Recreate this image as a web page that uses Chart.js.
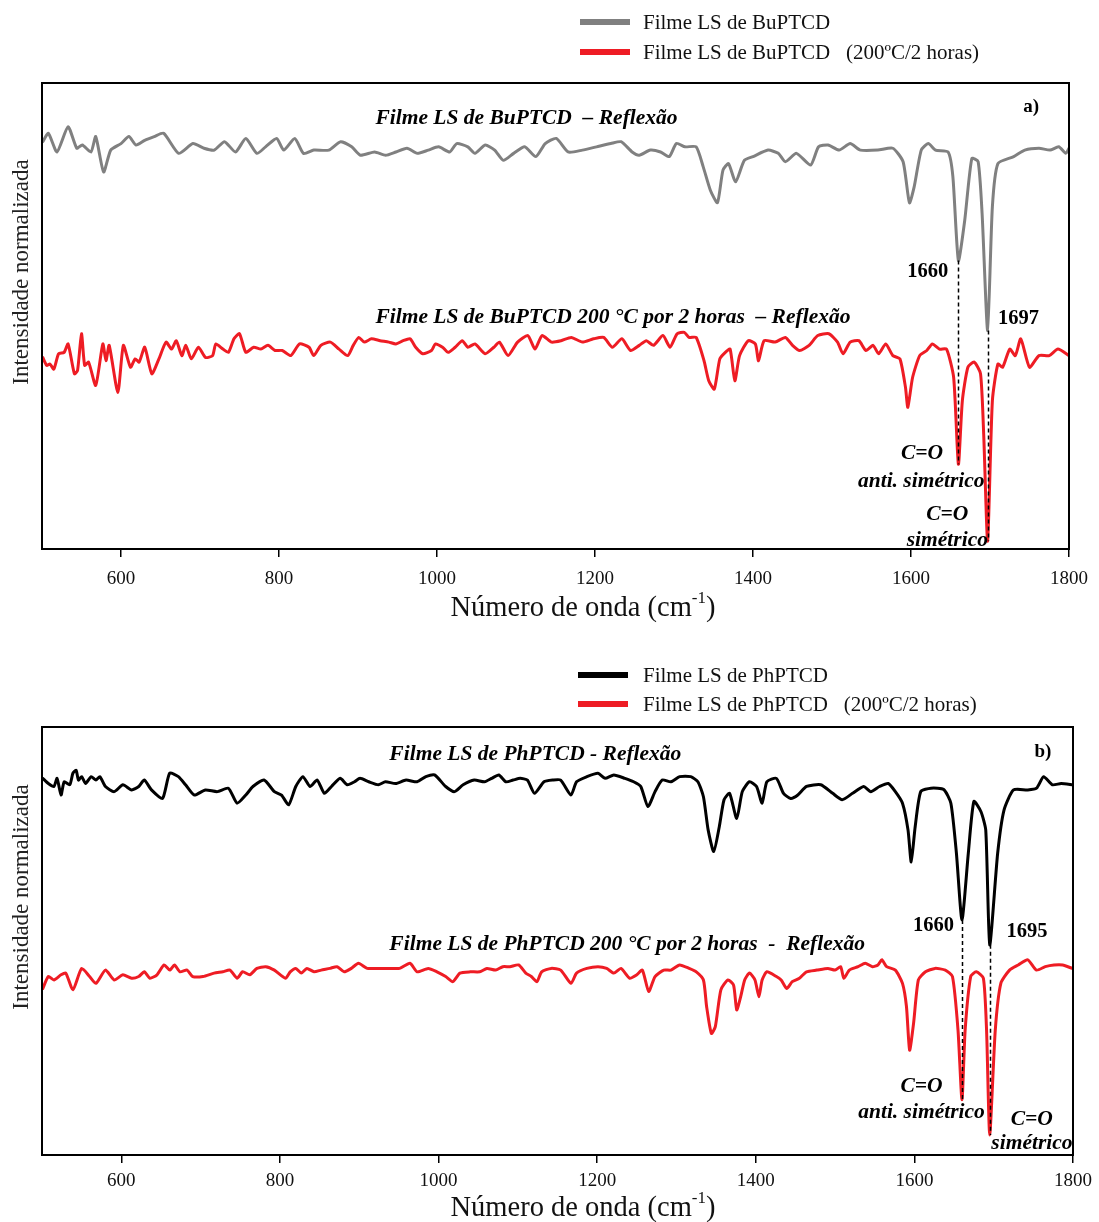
<!DOCTYPE html>
<html>
<head>
<meta charset="utf-8">
<script src="https://cdn.jsdelivr.net/npm/chart.js@4.4.0/dist/chart.umd.min.js"></script>
<style>
  html, body { margin: 0; padding: 0; background: #fff; overflow: hidden; width: 1099px; height: 1222px; }
  .panel { position: absolute; left: 0; width: 1099px; }
  #panelA { top: 0; height: 640px; }
  #panelB { top: 636px; height: 600px; }
</style>
</head>
<body>
<div class="panel" id="panelA"><canvas id="chartA" width="1099" height="640"></canvas></div>
<div class="panel" id="panelB"><canvas id="chartB" width="1099" height="600"></canvas></div>
<script>
// ---- Spectra (wavenumber in cm-1, normalized intensity with vertical offset) ----
const buWavenumber = [501,508,519,533,544,551,562,568,578,587,600,610,619,630,642,654,673,691,705,718,731,745,758,772,783,797,806,820,831,844,863,878,892,903,921,935,948,962,975,989,1002,1016,1025,1039,1048,1061,1073,1084,1097,1111,1125,1137,1151,1166,1184,1202,1220,1233,1247,1256,1270,1283,1294,1303,1314,1328,1337,1346,1355,1362,1369,1378,1389,1400,1419,1432,1441,1455,1473,1483,1495,1509,1523,1536,1558,1577,1590,1598,1604,1613,1622,1631,1647,1653,1660,1668,1677,1685,1690,1697,1703,1710,1730,1744,1762,1776,1787,1796,1800];
const buIntensity = [87.4,89.2,85.2,90.6,86.0,86.7,85.2,88.5,80.9,85.6,87.0,88.5,86.7,87.7,88.5,89.2,84.9,87.0,86.0,85.6,87.4,85.2,88.1,84.9,86.3,88.1,85.6,88.1,84.9,85.6,85.6,87.4,86.3,84.5,85.2,84.5,85.2,86.0,84.9,85.6,86.3,85.2,87.0,86.3,84.9,86.7,85.6,83.4,84.9,86.3,84.2,87.0,88.1,85.2,85.6,86.3,87.0,87.4,85.2,84.5,85.6,85.2,84.2,87.0,86.3,86.3,82.0,77.0,74.3,81.3,82.7,78.8,83.4,84.2,85.6,84.9,83.1,84.9,82.4,86.3,86.7,85.6,87.0,85.6,85.6,86.0,83.1,74.3,77.7,85.6,87.0,85.6,85.2,79.9,61.9,70.5,83.8,83.1,72.0,46.9,73.4,82.7,84.2,85.6,86.0,85.6,86.3,84.9,86.0];

const buHeatedWavenumber = [501,506,510,515,521,528,533,541,545,550,554,559,568,577,581,585,596,603,612,618,623,630,639,648,657,664,670,677,682,689,698,707,716,720,729,736,743,750,758,768,777,786,795,804,815,826,838,844,853,865,876,887,894,901,908,917,928,939,948,957,966,973,982,993,998,1007,1014,1023,1032,1039,1048,1061,1072,1079,1090,1102,1115,1124,1133,1145,1157,1170,1184,1198,1211,1222,1234,1245,1256,1265,1274,1286,1295,1304,1313,1319,1328,1338,1344,1351,1358,1365,1371,1377,1383,1394,1403,1407,1414,1428,1441,1450,1459,1471,1482,1496,1507,1514,1523,1534,1543,1552,1559,1568,1577,1586,1593,1596,1602,1611,1620,1627,1636,1645,1654,1660,1665,1672,1680,1688,1692,1697,1703,1710,1716,1725,1732,1739,1750,1762,1775,1786,1800];
const buHeatedIntensity = [41.1,39.4,39.7,38.6,41.9,42.2,44.0,37.6,38.3,46.2,39.4,40.1,35.1,44.0,40.4,43.7,33.6,43.7,39.0,40.8,40.1,43.3,37.6,40.8,44.4,42.9,44.7,41.5,43.7,40.8,43.3,41.1,41.5,44.0,42.9,42.2,45.1,46.2,42.2,43.3,42.9,43.7,42.6,42.6,41.5,44.0,43.3,41.5,43.7,44.4,42.9,41.5,43.7,45.4,44.4,45.1,44.7,44.4,44.0,44.7,45.1,43.3,41.9,42.6,44.0,43.3,42.2,43.3,44.7,43.3,44.0,41.9,43.3,44.4,41.5,44.4,45.8,42.9,45.8,44.4,44.7,45.4,44.4,45.1,45.4,43.3,45.1,42.6,43.7,44.7,43.7,45.8,43.3,46.2,46.5,45.4,45.4,40.4,36.1,34.3,40.8,42.2,42.9,36.1,41.5,44.7,44.0,40.4,44.7,44.4,45.4,43.7,42.6,43.7,45.8,46.2,44.4,41.9,44.4,44.7,42.6,43.7,41.9,44.0,41.5,40.8,34.7,30.4,36.8,41.5,42.6,44.0,42.9,42.9,36.8,18.2,31.8,39.0,40.1,37.6,24.7,1.7,31.8,39.7,39.0,42.9,41.5,45.1,39.0,41.5,41.5,42.9,41.5];

const phWavenumber = [501,508,515,519,524,528,535,539,543,546,550,555,562,568,573,580,591,602,613,622,629,638,652,661,672,681,692,706,721,735,746,757,766,780,793,802,811,820,829,838,847,856,865,876,885,894,901,912,924,933,946,959,973,984,995,1009,1020,1031,1045,1058,1067,1076,1085,1094,1103,1112,1121,1133,1144,1154,1167,1174,1187,1201,1210,1221,1235,1246,1255,1264,1273,1282,1293,1304,1318,1327,1334,1340,1347,1354,1360,1367,1376,1383,1392,1401,1408,1414,1426,1435,1444,1453,1464,1482,1497,1509,1522,1536,1545,1556,1567,1576,1585,1592,1596,1601,1608,1621,1637,1646,1653,1660,1668,1675,1684,1690,1695,1705,1713,1725,1743,1754,1763,1774,1785,1800];
const phIntensity = [88.0,86.8,86.1,88.0,84.1,87.2,86.5,89.2,89.9,87.6,88.4,86.8,88.4,87.6,88.4,86.1,84.9,86.5,85.3,86.1,87.6,85.3,83.3,89.2,88.4,86.5,84.1,85.3,84.9,85.7,82.2,84.1,86.1,87.6,84.9,84.1,81.8,86.1,88.4,86.1,87.6,84.5,86.1,88.0,86.5,87.2,88.0,87.2,86.5,87.2,86.8,87.6,87.2,88.4,88.8,86.1,84.9,86.5,87.6,87.2,88.0,88.8,87.2,87.6,88.0,87.6,84.5,87.2,87.6,87.6,84.1,87.2,88.4,89.2,88.0,88.8,88.0,87.2,86.1,81.4,84.9,87.6,87.2,88.4,88.4,87.2,83.7,75.9,70.9,76.7,83.0,84.5,78.6,84.9,87.2,86.1,82.2,87.2,88.0,84.5,83.3,84.1,86.1,86.5,84.5,83.0,84.5,86.1,84.9,86.1,86.8,84.9,82.2,75.9,68.5,76.7,84.9,85.7,85.4,82.2,70.5,54.9,70.5,82.6,80.2,75.9,49.1,70.5,80.6,85.3,85.3,85.7,88.4,86.5,86.8,86.5];

const phHeatedWavenumber = [501,508,515,524,530,539,550,560,568,580,591,602,613,622,629,636,645,654,661,667,674,683,690,703,717,728,737,746,753,762,771,782,793,807,813,820,827,834,843,852,863,872,881,890,899,910,924,937,951,964,973,987,998,1009,1018,1027,1040,1052,1061,1072,1081,1090,1101,1110,1117,1124,1130,1142,1154,1167,1174,1187,1201,1212,1221,1230,1241,1250,1257,1265,1273,1284,1293,1304,1316,1325,1334,1338,1344,1349,1356,1365,1372,1376,1381,1386,1392,1399,1404,1408,1414,1426,1432,1439,1446,1455,1464,1477,1491,1500,1507,1511,1518,1529,1538,1547,1554,1559,1565,1576,1585,1590,1594,1599,1605,1614,1626,1639,1648,1655,1660,1664,1671,1678,1687,1691,1695,1702,1709,1720,1731,1743,1754,1765,1776,1787,1799];
const phHeatedIntensity = [38.9,41.7,40.9,42.1,42.5,38.6,43.6,41.7,40.1,43.2,40.9,42.1,41.3,41.7,42.8,41.3,42.1,44.4,43.2,44.4,42.8,43.2,41.7,41.7,42.5,42.8,43.2,41.3,42.8,42.1,43.6,44.0,43.2,41.3,42.8,43.6,42.5,43.6,42.8,43.2,43.6,44.0,42.8,43.6,44.8,43.6,43.6,43.6,43.6,44.8,42.8,43.6,42.8,41.7,40.5,42.5,42.8,42.8,43.6,43.2,44.0,44.0,44.4,42.5,41.7,40.5,42.8,43.6,43.2,40.1,42.5,43.6,44.0,43.6,42.5,43.6,41.3,42.1,43.2,38.2,41.7,43.2,43.2,44.4,43.6,42.8,40.9,34.7,28.4,30.0,38.6,40.9,39.7,33.9,37.0,40.9,42.5,40.9,37.0,40.9,42.8,41.7,40.9,38.9,40.5,41.3,42.8,43.2,43.6,43.2,44.0,41.3,43.2,44.0,44.8,44.0,44.4,45.6,44.0,43.2,40.1,34.7,24.5,30.8,40.9,42.8,43.6,43.2,41.7,29.2,12.9,29.2,41.7,42.8,41.3,29.2,4.7,29.2,40.1,43.2,44.4,45.6,43.2,44.0,44.4,44.4,43.6];

// ---- Axis ticks and labels ----
const xTickValues = [600, 800, 1000, 1200, 1400, 1600, 1800];
const xAxisTitle = ['Número de onda (cm', '-1', ')'];
const yAxisTitle = 'Intensidade normalizada';
const labelsA = ['Filme LS de BuPTCD', 'Filme LS de BuPTCD   (200ºC/2 horas)'];
const labelsB = ['Filme LS de PhPTCD', 'Filme LS de PhPTCD   (200ºC/2 horas)'];
const peaksA = [1660, 1697];
const peaksB = [1660, 1695];

const FONT = "'Liberation Serif', 'Times New Roman', serif";
const GREY = '#808080', RED = '#ee1c24', BLACK = '#000000';

function zip(xs, ys) { return xs.map((x, i) => ({ x: x, y: ys[i] })); }
function valueAt(ds, x) { const p = ds.data.find(d => d.x === x); return p ? p.y : null; }

// Frame, peak guides, annotations, legend and axis titles
const decorPlugin = {
  id: 'decor',
  afterDraw(chart, args, o) {
    const { ctx, chartArea: a } = chart;
    const xs = chart.scales.x, ys = chart.scales.y;
    ctx.save();
    // plot frame
    ctx.strokeStyle = '#000';
    ctx.lineWidth = 2;
    ctx.strokeRect(a.left, a.top, a.right - a.left, a.bottom - a.top);

    // dashed guides linking the carbonyl bands of both spectra
    ctx.setLineDash([4, 3]);
    ctx.lineWidth = 1.5;
    o.peaks.forEach(p => {
      const v1 = valueAt(chart.data.datasets[0], p);
      const v2 = valueAt(chart.data.datasets[1], p);
      const px = Math.round(xs.getPixelForValue(p)) + 0.5;
      ctx.beginPath();
      ctx.moveTo(px, ys.getPixelForValue(v1));
      ctx.lineTo(px, ys.getPixelForValue(v2));
      ctx.stroke();
    });
    ctx.setLineDash([]);

    // text annotations placed in data coordinates
    ctx.fillStyle = '#000';
    ctx.textBaseline = 'middle';
    o.notes.forEach(n => {
      ctx.font = `${n.style} ${n.size}px ${FONT}`;
      ctx.textAlign = n.align;
      ctx.fillText(n.text, xs.getPixelForValue(n.x), ys.getPixelForValue(n.y));
    });

    // legend
    ctx.textAlign = 'left';
    ctx.font = `21px ${FONT}`;
    chart.data.datasets.forEach((ds, i) => {
      const ly = o.legend.ys[i];
      ctx.strokeStyle = ds.borderColor;
      ctx.lineWidth = 6;
      ctx.beginPath();
      ctx.moveTo(o.legend.x0, ly);
      ctx.lineTo(o.legend.x1, ly);
      ctx.stroke();
      ctx.fillStyle = '#111';
      ctx.fillText(ds.label, o.legend.tx, ly + 1);
    });

    // x-axis title with superscript
    const big = `28.5px ${FONT}`, small = `17px ${FONT}`;
    ctx.font = big;
    const w0 = ctx.measureText(xAxisTitle[0]).width;
    const w2 = ctx.measureText(xAxisTitle[2]).width;
    ctx.font = small;
    const w1 = ctx.measureText(xAxisTitle[1]).width;
    let tx = o.xTitle.x - (w0 + w1 + w2) / 2;
    ctx.fillStyle = '#111';
    ctx.font = big; ctx.fillText(xAxisTitle[0], tx, o.xTitle.y); tx += w0;
    ctx.font = small; ctx.fillText(xAxisTitle[1], tx, o.xTitle.y - 10); tx += w1;
    ctx.font = big; ctx.fillText(xAxisTitle[2], tx, o.xTitle.y);

    // y-axis title
    ctx.translate(o.yTitle.x, o.yTitle.y);
    ctx.rotate(-Math.PI / 2);
    ctx.textAlign = 'center';
    ctx.font = `23px ${FONT}`;
    ctx.fillStyle = '#222';
    ctx.fillText(yAxisTitle, 0, 0);
    ctx.restore();
  }
};

function buildChart(id, series, cfg) {
  return new Chart(document.getElementById(id), {
    type: 'line',
    data: {
      datasets: series.map(s => ({
        label: s.label,
        data: zip(s.x, s.y),
        borderColor: s.color,
        borderWidth: 3,
        pointRadius: 0,
        fill: false,
        tension: 0.2,
        borderJoinStyle: 'round',
        borderCapStyle: 'round'
      }))
    },
    options: {
      responsive: false,
      animation: false,
      events: [],
      layout: { padding: cfg.padding },
      plugins: {
        legend: { display: false },
        tooltip: { enabled: false },
        decor: cfg.decor
      },
      scales: {
        x: {
          type: 'linear',
          min: 500,
          max: 1800,
          afterBuildTicks: sc => { sc.ticks = xTickValues.map(v => ({ value: v })); },
          afterFit: sc => { sc.height = 60; },
          ticks: {
            autoSkip: false,
            maxRotation: 0,
            padding: cfg.tickPad,
            color: '#111',
            font: { family: FONT, size: 19 },
            callback: v => String(v)
          },
          grid: { drawOnChartArea: false, drawTicks: true, tickLength: 8, color: '#000', lineWidth: 1.5 },
          border: { display: false }
        },
        y: { display: false, min: 0, max: 100 }
      }
    },
    plugins: [decorPlugin]
  });
}

const bold = 'bold', boldItalic = 'italic bold';

buildChart('chartA', [
  { label: labelsA[0], x: buWavenumber, y: buIntensity, color: GREY },
  { label: labelsA[1], x: buHeatedWavenumber, y: buHeatedIntensity, color: RED }
], {
  padding: { top: 83, right: 28, bottom: 31, left: 42 },
  tickPad: 11,
  decor: {
    peaks: peaksA,
    legend: { x0: 580, x1: 630, tx: 643, ys: [22, 52] },
    xTitle: { x: 583, y: 609 },
    yTitle: { x: 22, y: 272 },
    notes: [
      { text: 'Filme LS de BuPTCD  – Reflexão', x: 922, y: 92.3, size: 21.5, style: boldItalic, align: 'left' },
      { text: 'Filme LS de BuPTCD 200 °C por 2 horas  – Reflexão', x: 922, y: 49.7, size: 21.5, style: boldItalic, align: 'left' },
      { text: 'a)', x: 1752, y: 94.8, size: 19, style: bold, align: 'center' },
      { text: '1660', x: 1647, y: 59.6, size: 20.5, style: bold, align: 'right' },
      { text: '1697', x: 1710, y: 49.5, size: 20.5, style: bold, align: 'left' },
      { text: 'C=O', x: 1614, y: 20.6, size: 21.5, style: boldItalic, align: 'center' },
      { text: 'anti. simétrico', x: 1613, y: 14.6, size: 21.5, style: boldItalic, align: 'center' },
      { text: 'C=O', x: 1646, y: 7.5, size: 21.5, style: boldItalic, align: 'center' },
      { text: 'simétrico', x: 1646, y: 1.9, size: 21.5, style: boldItalic, align: 'center' }
    ]
  }
});

buildChart('chartB', [
  { label: labelsB[0], x: phWavenumber, y: phIntensity, color: BLACK },
  { label: labelsB[1], x: phHeatedWavenumber, y: phHeatedIntensity, color: RED }
], {
  padding: { top: 91, right: 24, bottom: 21, left: 42 },
  tickPad: 7,
  decor: {
    peaks: peaksB,
    legend: { x0: 578, x1: 628, tx: 643, ys: [39, 68] },
    xTitle: { x: 583, y: 573 },
    yTitle: { x: 22, y: 261 },
    notes: [
      { text: 'Filme LS de PhPTCD - Reflexão', x: 938, y: 93.5, size: 21.5, style: boldItalic, align: 'left' },
      { text: 'Filme LS de PhPTCD 200 °C por 2 horas  -  Reflexão', x: 938, y: 49.3, size: 21.5, style: boldItalic, align: 'left' },
      { text: 'b)', x: 1762, y: 94.2, size: 19, style: bold, align: 'center' },
      { text: '1660', x: 1650, y: 53.5, size: 20.5, style: bold, align: 'right' },
      { text: '1695', x: 1716, y: 52.1, size: 20.5, style: bold, align: 'left' },
      { text: 'C=O', x: 1609, y: 15.9, size: 21.5, style: boldItalic, align: 'center' },
      { text: 'anti. simétrico', x: 1609, y: 10.0, size: 21.5, style: boldItalic, align: 'center' },
      { text: 'C=O', x: 1748, y: 8.4, size: 21.5, style: boldItalic, align: 'center' },
      { text: 'simétrico', x: 1697, y: 2.6, size: 21.5, style: boldItalic, align: 'left' }
    ]
  }
});
</script>
</body>
</html>
